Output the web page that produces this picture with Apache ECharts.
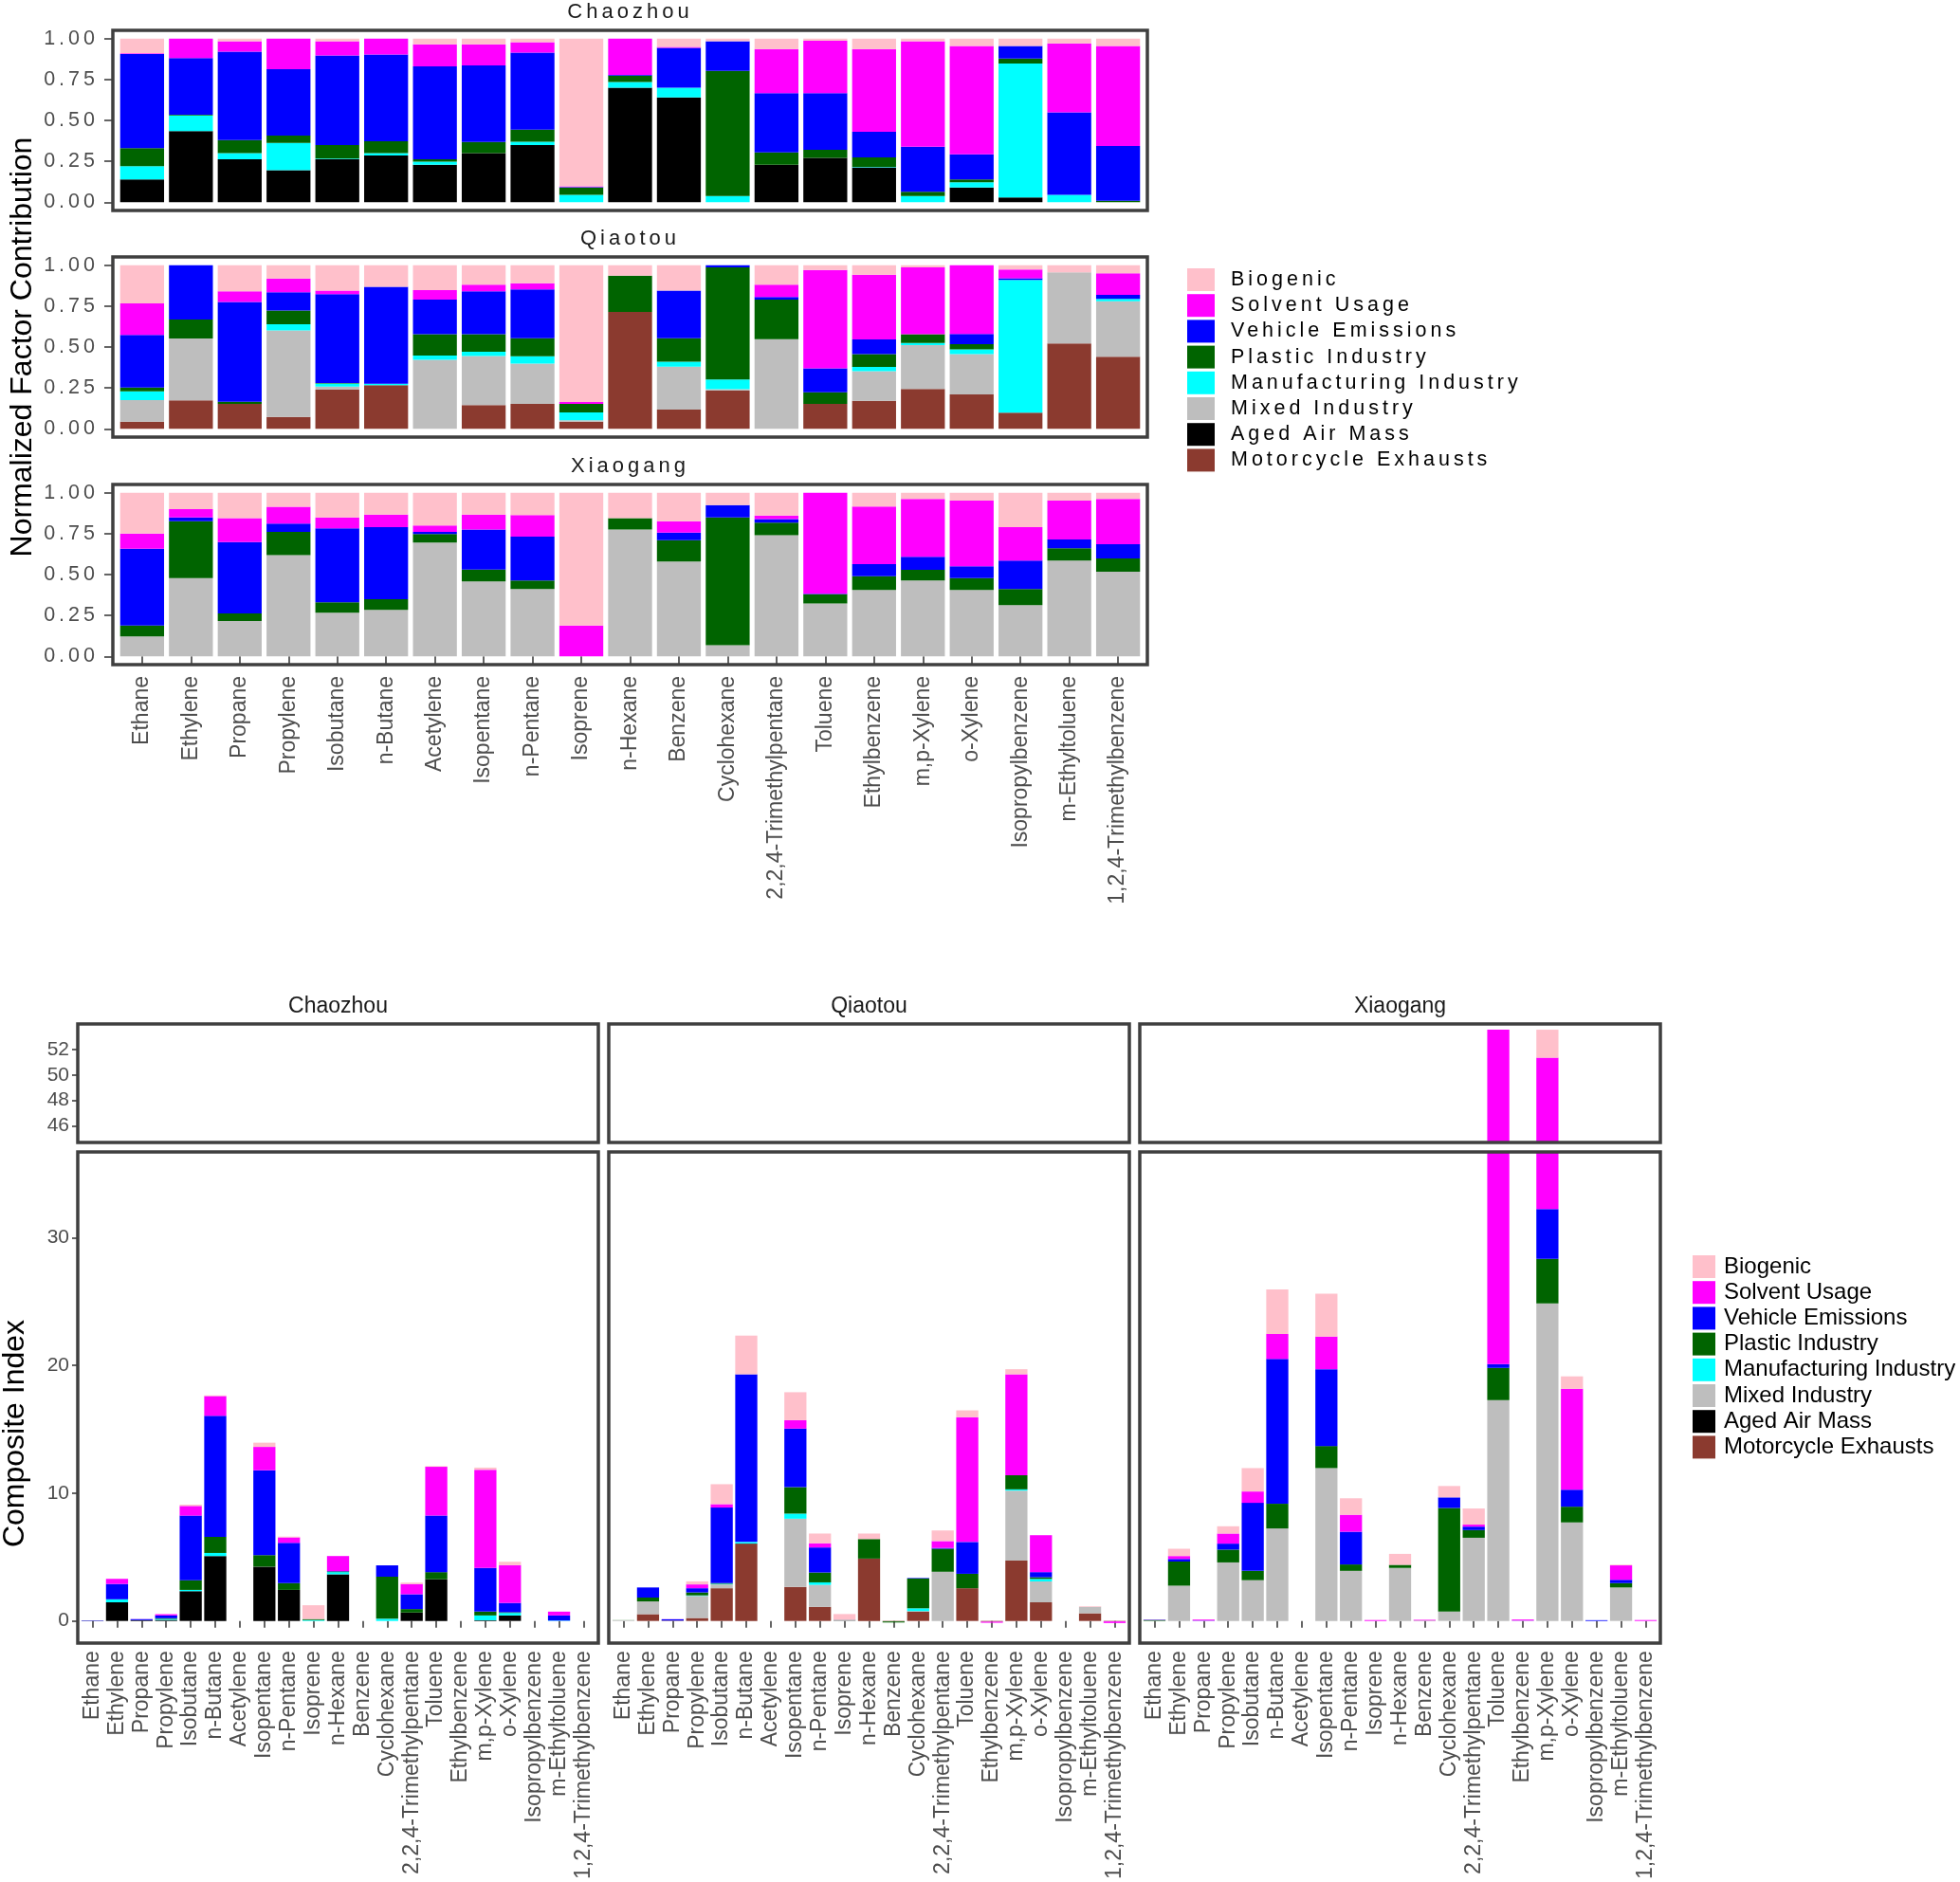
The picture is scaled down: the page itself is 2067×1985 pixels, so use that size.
<!DOCTYPE html>
<html><head><meta charset="utf-8">
<script src="https://cdn.jsdelivr.net/npm/echarts/dist/echarts.min.js"></script>
<style>html,body{margin:0;padding:0;background:#fff}#chart{width:2067px;height:1985px}</style>
</head><body><div id="chart"></div>
<script>
// letter-spaced text for fonts tagged "Liberation Sans" (top figure texts)
(function(){
  const P = CanvasRenderingContext2D.prototype;
  const orig = P.fillText;
  P.fillText = function(t, x, y, w){
    if ('letterSpacing' in this) this.letterSpacing = this.font.indexOf('Liberation') >= 0 ? '4px' : '0px';
    return w === undefined ? orig.call(this, t, x, y) : orig.call(this, t, x, y, w);
  };
})();

const species = ['Ethane','Ethylene','Propane','Propylene','Isobutane','n-Butane','Acetylene','Isopentane','n-Pentane','Isoprene','n-Hexane','Benzene','Cyclohexane','2,2,4-Trimethylpentane','Toluene','Ethylbenzene','m,p-Xylene','o-Xylene','Isopropylbenzene','m-Ethyltoluene','1,2,4-Trimethylbenzene'];
const factors = ['Biogenic','Solvent Usage','Vehicle Emissions','Plastic Industry','Manufacturing Industry','Mixed Industry','Aged Air Mass','Motorcycle Exhausts'];
const factorColors = ['#FFC0CB','#FF00FF','#0000FF','#006400','#00FFFF','#BEBEBE','#000000','#8B3A2F'];
const sites = ['Chaozhou','Qiaotou','Xiaogang'];
const shareTicks = [0, 0.25, 0.5, 0.75, 1];
const indexTicksLow = [0, 10, 20, 30];
const indexTicksHigh = [46, 48, 50, 52];

// rows = species, columns = factors (legend order)
const chaozhouShare = [
 [.09,.005,.575,.11,.08,0,.14,0],
 [0,.12,.345,.005,.095,0,.435,0],
 [.017,.063,.54,.08,.037,0,.263,0],
 [0,.187,.405,.046,.166,0,.196,0],
 [.017,.086,.548,.082,.004,0,.263,0],
 [0,.097,.53,.073,.014,0,.286,0],
 [.036,.134,.567,.015,.019,0,.229,0],
 [.036,.128,.468,.068,0,0,.30,0],
 [.023,.063,.47,.074,.021,0,.349,0],
 [.903,.003,.003,.045,.046,0,0,0],
 [0,.222,.005,.038,.035,0,.70,0],
 [.052,.005,.243,0,.06,0,.64,0],
 [.017,0,.181,.764,.038,0,0,0],
 [.065,.268,.362,.076,0,0,.229,0],
 [.013,.32,.347,.048,0,0,.272,0],
 [.065,.505,.156,.057,.004,0,.213,0],
 [.017,.644,.274,.027,.038,0,0,0],
 [.046,.661,.153,.018,.031,0,.091,0],
 [.046,0,.076,.03,.819,0,.029,0],
 [.029,.422,.503,0,.046,0,0,0],
 [.046,.611,.333,.01,0,0,0,0]
];
const qiaotouShare = [
 [.233,.193,.322,.023,.053,.132,0,.044],
 [0,0,.332,.116,0,.378,0,.174],
 [.16,.065,.609,.013,0,0,0,.153],
 [.082,.084,.111,.084,.038,.528,0,.073],
 [.155,.022,.543,.003,.019,.018,0,.24],
 [.132,0,.593,0,.008,0,0,.267],
 [.153,.057,.212,.13,.026,.422,0,0],
 [.12,.04,.262,.107,.026,.30,0,.145],
 [.111,.038,.298,.11,.044,.246,0,.153],
 [.836,.011,0,.053,.047,.009,0,.044],
 [.065,0,0,.221,0,0,0,.714],
 [.155,0,.292,.143,.03,.262,0,.118],
 [0,0,.013,.685,.06,.009,0,.233],
 [.12,.074,.016,.242,0,.548,0,0],
 [.03,.60,.147,.07,0,0,0,.153],
 [.059,.395,.09,.078,.025,.181,0,.172],
 [.013,.409,0,.053,.014,.267,0,.244],
 [0,.42,.063,.032,.029,.246,0,.21],
 [.027,.053,.01,0,.811,0,0,.099],
 [.044,0,0,0,0,.435,0,.521],
 [.05,.131,.025,0,.014,.339,0,.441]
];
const xiaogangShare = [
 [.25,.092,.469,.067,0,.122,0,0],
 [.10,.051,.023,.347,0,.479,0,0],
 [.156,.146,.435,.047,0,.216,0,0],
 [.086,.103,.051,.142,0,.618,0,0],
 [.151,.067,.452,.063,0,.267,0,0],
 [.134,.076,.441,.065,0,.284,0,0],
 [.20,.04,.012,.053,0,.695,0,0],
 [.134,.091,.244,.073,0,.458,0,0],
 [.137,.132,.267,.052,0,.412,0,0],
 [.811,.189,0,0,0,0,0,0],
 [.156,0,0,.069,0,.775,0,0],
 [.174,.07,.046,.13,0,.58,0,0],
 [.076,0,.075,.78,0,.069,0,0],
 [.139,.023,.021,.077,0,.74,0,0],
 [0,.617,.003,.056,0,.324,0,0],
 [.084,.353,.073,.084,0,.406,0,0],
 [.038,.353,.08,.065,0,.464,0,0],
 [.048,.402,.071,.073,0,.406,0,0],
 [.21,.204,.174,.099,0,.313,0,0],
 [.048,.238,.054,.074,0,.586,0,0],
 [.038,.277,.086,.082,0,.517,0,0]
];
const chaozhouIndex = [
 [0,0,.03,0,0,0,.02,0],
 [0,.40,1.20,.005,.23,0,1.46,0],
 [0,.01,.08,.01,0,0,.05,0],
 [0,.10,.22,.05,.08,0,.08,0],
 [.10,.76,5.05,.76,.10,0,2.33,0],
 [.05,1.55,9.47,1.26,.24,0,5.08,0],
 [0,0,0,0,0,0,0,0],
 [.33,1.83,6.64,.90,0,0,4.25,0],
 [.06,.43,3.15,.53,0,0,2.43,0],
 [1.08,0,0,.08,.07,0,0,0],
 [0,1.18,.03,.05,.17,0,3.65,0],
 [0,0,0,0,0,0,0,0],
 [0,0,.89,3.29,.17,0,0,0],
 [.11,.80,1.16,.27,0,0,.66,0],
 [.05,3.82,4.42,.56,0,0,3.26,0],
 [0,0,0,0,0,0,0,0],
 [.17,7.68,3.42,.30,.38,0,.05,0],
 [.26,2.96,.73,.05,.20,0,.43,0],
 [0,0,0,0,0,0,0,0],
 [0,.30,.40,0,.03,0,0,0],
 [0,0,0,0,0,0,0,0]
];
const qiaotouIndex = [
 [0,0,0,.01,0,.05,0,0],
 [0,0,.79,.30,0,1.00,0,.53],
 [0,.01,.10,0,0,0,0,.03],
 [.24,.30,.33,.23,.04,1.73,0,.23],
 [1.56,.27,5.91,.05,.05,.30,0,2.56],
 [3.03,0,13.12,0,.13,0,0,6.05],
 [0,0,0,0,0,0,0,0],
 [2.19,.66,4.58,2.07,.40,5.34,0,2.66],
 [.76,.33,1.96,.77,.20,1.72,0,1.10],
 [.45,.01,0,.02,.02,.01,0,.03],
 [.43,0,0,1.53,0,0,0,4.88],
 [0,0,0,-.08,0,0,0,-.04],
 [0,0,.04,2.33,.22,.03,0,.74],
 [.83,.54,.06,1.80,0,3.85,0,0],
 [.53,9.77,2.49,1.13,0,0,0,2.56],
 [0,-.08,0,0,0,0,0,-.06],
 [.40,7.90,0,1.10,.10,5.48,0,4.72],
 [0,2.89,.40,.13,.20,1.63,0,1.46],
 [0,0,0,0,0,0,0,0],
 [.05,0,0,0,0,.50,0,.60],
 [0,-.12,0,0,0,0,0,-.04]
];
const xiaogangIndex = [
 [.01,.01,.03,.06,0,.01,0,0],
 [.57,.23,.20,1.89,0,2.76,0,0],
 [.01,.08,.02,0,0,.01,0,0],
 [.57,.79,.47,1.00,0,4.58,0,0],
 [1.83,.89,5.32,.73,0,3.19,0,0],
 [3.49,1.96,11.33,1.93,0,7.24,0,0],
 [0,0,0,0,0,0,0,0],
 [3.35,2.56,6.01,1.73,0,11.96,0,0],
 [1.29,1.33,2.56,.50,0,3.92,0,0],
 [.01,.07,0,0,0,0,0,0],
 [.86,0,0,.24,0,4.15,0,0],
 [.01,.06,0,.01,0,.02,0,0],
 [.89,0,.83,8.11,0,.73,0,0],
 [1.26,.16,.27,.60,0,6.51,0,0],
 [0,33.45,.30,2.52,0,17.28,0,0],
 [0,.08,.01,0,0,.02,0,0],
 [2.20,19.12,3.89,3.49,0,24.85,0,0],
 [.97,7.90,1.33,1.23,0,7.71,0,0],
 [0,0,.06,0,0,0,0,0],
 [.05,1.13,.26,.34,0,2.62,0,0],
 [0,.07,0,0,0,0,0,0]
];

const shares = [chaozhouShare, qiaotouShare, xiaogangShare];
const indices = [chaozhouIndex, qiaotouIndex, xiaogangIndex];

// ---------- layout ----------
const topX = 119, topW = 1091, topTops = [32, 271, 511], topH = 190;
const insT = topW * 0.1 / 21.2;
const botX = [82, 642, 1202], botW = 549;
const insB = botW * 0.1 / 21.2;
const upTop = 1080, upH = 125, lowTop = 1215, lowH = 518;
const borderColor = '#3f3f3f', tickColor = '#333333', labColor = '#4d4d4d';
const spaced = 'Liberation Sans', plain = 'Arial';

const grids = [], xAxes = [], yAxes = [], series = [], gfx = [];

function addPanel(g, rect, inset, showX, xLab, yCfg, data) {
  grids.push({left: rect.x + inset, top: rect.y, width: rect.w - 2 * inset, height: rect.h, containLabel: false});
  xAxes.push({
    gridIndex: g, type: 'category', data: species, boundaryGap: true,
    axisLine: {show: false},
    axisTick: {show: showX, alignWithLabel: true, length: xLab.tick, lineStyle: {color: tickColor, width: 1.5}},
    axisLabel: {show: showX, interval: 0, rotate: 90, margin: xLab.margin, fontFamily: plain, fontSize: 23, color: labColor},
    splitLine: {show: false}
  });
  yAxes.push(Object.assign({
    gridIndex: g, type: 'value', offset: inset,
    splitLine: {show: false}, axisLine: {show: false}
  }, yCfg));
  for (let f = factors.length - 1; f >= 0; f--) {
    series.push({
      type: 'bar', name: factors[f], xAxisIndex: g, yAxisIndex: g, stack: 'p' + g,
      data: data.map(r => r[f]), itemStyle: {color: factorColors[f]},
      barCategoryGap: '10%', clip: true, silent: true, emphasis: {disabled: true}
    });
  }
  gfx.push({type: 'rect', z: 100, silent: true, shape: {x: rect.x, y: rect.y, width: rect.w, height: rect.h},
    style: {fill: 'none', stroke: borderColor, lineWidth: 3.5}});
}

// top figure: normalized contribution
for (let s = 0; s < 3; s++) {
  addPanel(s, {x: topX, y: topTops[s], w: topW, h: topH}, insT, s === 2, {tick: 8, margin: 12}, {
    min: -0.05, max: 1.05,
    axisTick: {show: true, length: 9, customValues: shareTicks, lineStyle: {color: tickColor, width: 1.5}},
    axisLabel: {show: true, customValues: shareTicks, formatter: v => v.toFixed(2), margin: 15,
      fontFamily: spaced, fontSize: 21.5, color: labColor}
  }, shares[s]);
  gfx.push({type: 'text', z: 100, silent: true, x: topX + topW / 2, y: topTops[s] - 19,
    style: {text: sites[s], font: '22px "Liberation Sans"', fill: '#1a1a1a', align: 'center', verticalAlign: 'middle', textAlign: 'center', textVerticalAlign: 'middle'}});
}
// bottom figure: composite index, broken axis
for (let s = 0; s < 3; s++) {
  addPanel(3 + s, {x: botX[s], y: upTop, w: botW, h: upH}, insB, false, {tick: 7, margin: 10}, {
    min: 44.7, max: 54.0,
    axisTick: {show: s === 0, length: 6, customValues: indexTicksHigh, lineStyle: {color: tickColor, width: 1.5}},
    axisLabel: {show: s === 0, customValues: indexTicksHigh, margin: 9, fontFamily: plain, fontSize: 21, color: labColor}
  }, indices[s]);
}
for (let s = 0; s < 3; s++) {
  addPanel(6 + s, {x: botX[s], y: lowTop, w: botW, h: lowH}, insB, true, {tick: 7, margin: 10}, {
    min: -1.6, max: 36.7,
    axisTick: {show: s === 0, length: 6, customValues: indexTicksLow, lineStyle: {color: tickColor, width: 1.5}},
    axisLabel: {show: s === 0, customValues: indexTicksLow, margin: 9, fontFamily: plain, fontSize: 21, color: labColor}
  }, indices[s]);
  gfx.push({type: 'text', z: 100, silent: true, x: botX[s] + botW / 2, y: 1062,
    style: {text: sites[s], font: '23px Arial', fill: '#1a1a1a', align: 'center', verticalAlign: 'middle', textAlign: 'center', textVerticalAlign: 'middle'}});
}
gfx.push({type: 'text', z: 100, silent: true, x: 24, y: 366, rotation: Math.PI / 2,
  style: {text: 'Normalized Factor Contribution', font: '32px Arial', fill: '#000', align: 'center', verticalAlign: 'middle', textAlign: 'center', textVerticalAlign: 'middle'}});
gfx.push({type: 'text', z: 100, silent: true, x: 16, y: 1512, rotation: Math.PI / 2,
  style: {text: 'Composite Index', font: '32px Arial', fill: '#000', align: 'center', verticalAlign: 'middle', textAlign: 'center', textVerticalAlign: 'middle'}});

const legends = [
  {orient: 'vertical', left: 1247, top: 278, itemWidth: 29, itemHeight: 24, itemGap: 3.2, icon: 'rect',
   selectedMode: false, data: factors, textStyle: {fontFamily: spaced, fontSize: 21.5, color: '#000', padding: [0, 0, 0, 12]}},
  {orient: 'vertical', left: 1780, top: 1319, itemWidth: 24, itemHeight: 24, itemGap: 3.2, icon: 'rect',
   selectedMode: false, data: factors, textStyle: {fontFamily: plain, fontSize: 24, color: '#000', padding: [0, 0, 0, 4]}}
];

const chart = echarts.init(document.getElementById('chart'), null, {renderer: 'canvas'});
chart.setOption({
  animation: false,
  backgroundColor: '#ffffff',
  textStyle: {fontFamily: plain},
  grid: grids, xAxis: xAxes, yAxis: yAxes,
  legend: legends,
  series: series,
  graphic: {elements: gfx}
});
</script></body></html>
